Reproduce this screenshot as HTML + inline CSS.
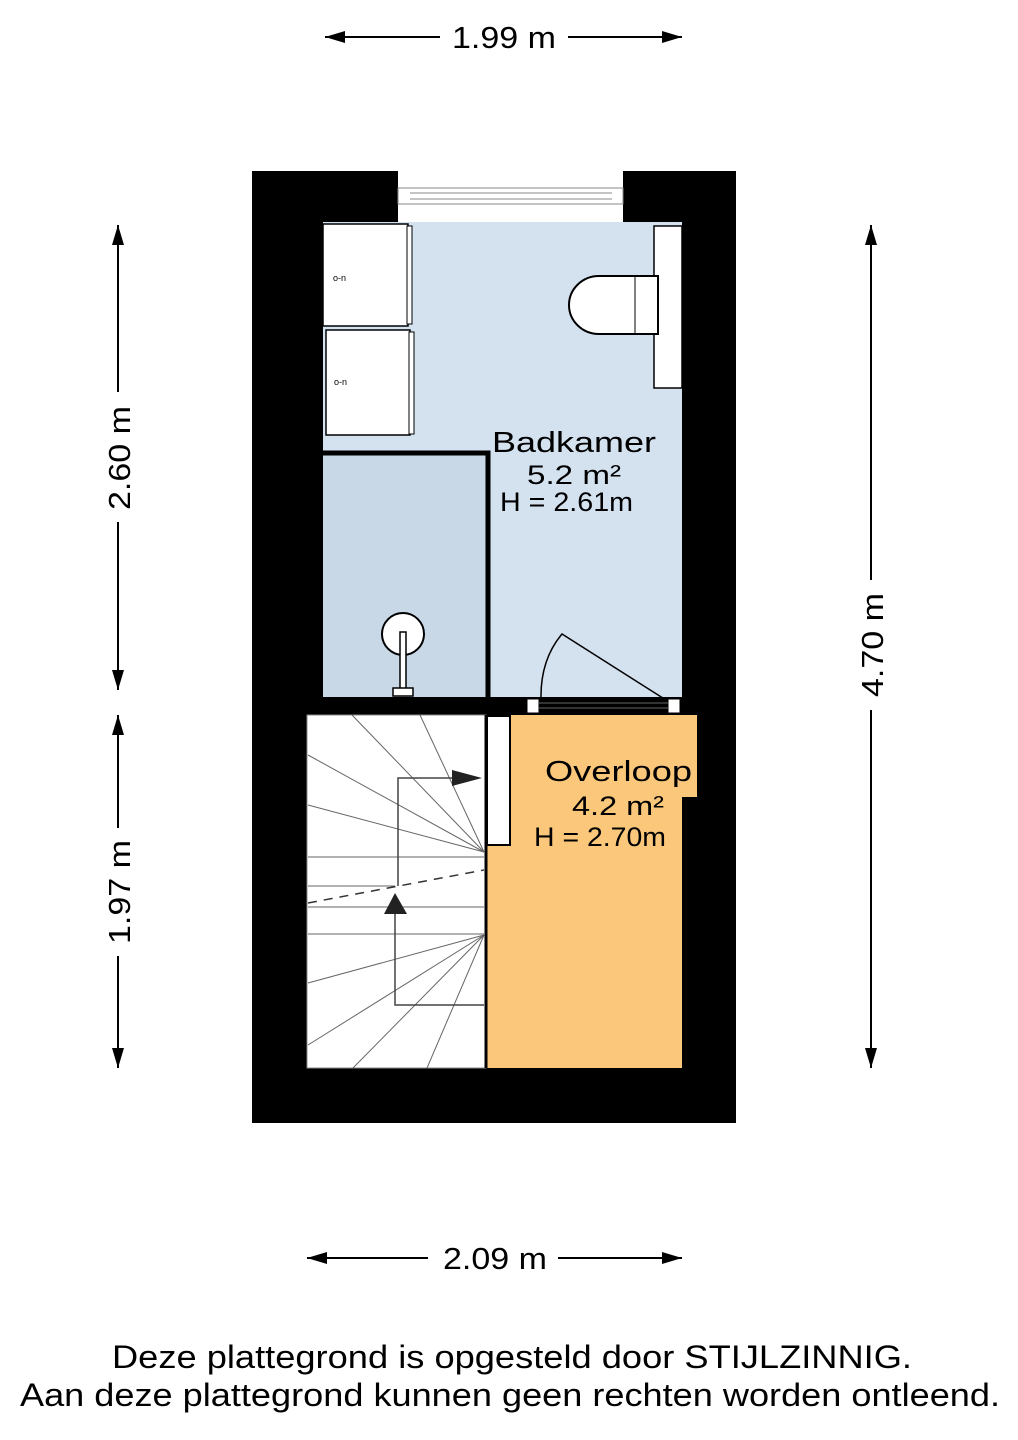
<!DOCTYPE html>
<html><head><meta charset="utf-8"><style>html,body{margin:0;padding:0;background:#fff}svg{display:block}</style></head>
<body>
<svg width="1018" height="1440" viewBox="0 0 1018 1440" xmlns="http://www.w3.org/2000/svg" font-family="Liberation Sans, sans-serif">
<!-- outer walls -->
<rect x="252" y="171" width="484" height="952" fill="#000"/>
<rect x="398" y="171" width="225" height="52" fill="#fff"/>
<!-- window -->
<rect x="398" y="188" width="225" height="16" fill="#fff" stroke="#888" stroke-width="1"/>
<line x1="410" y1="193" x2="612" y2="193" stroke="#888"/><line x1="410" y1="199" x2="612" y2="199" stroke="#888"/>
<!-- bathroom -->
<rect x="323" y="222" width="359" height="475" fill="#d4e1ef"/>
<!-- cabinets -->
<rect x="323" y="224" width="85" height="102" fill="#fff" stroke="#000" stroke-width="1.5"/>
<rect x="407" y="226" width="5" height="98" fill="#fff" stroke="#000" stroke-width="1"/>
<rect x="326" y="330" width="84" height="105" fill="#fff" stroke="#000" stroke-width="1.5"/>
<rect x="409" y="332" width="5" height="102" fill="#fff" stroke="#000" stroke-width="1"/>
<text x="333" y="281" font-size="9">o-n</text><text x="334" y="385" font-size="9">o-n</text>
<!-- toilet -->
<rect x="654" y="226" width="28" height="162" fill="#fff" stroke="#000" stroke-width="1.5"/>
<path d="M658,276 L599,276 A30,29 0 0 0 599,334 L658,334 Z" fill="#fff" stroke="#000" stroke-width="2"/>
<line x1="635" y1="277" x2="635" y2="333" stroke="#000" stroke-width="1"/>
<!-- shower -->
<rect x="323" y="453" width="163" height="244" fill="#c9d8e7"/>
<path d="M323,453 L488,453 L488,697" fill="none" stroke="#000" stroke-width="5"/>
<circle cx="403" cy="634" r="21" fill="#fff" stroke="#000" stroke-width="2"/>
<rect x="400" y="632" width="6" height="60" fill="#fff" stroke="#000" stroke-width="1.5"/>
<rect x="393" y="688" width="20" height="8" fill="#fff" stroke="#000" stroke-width="1.5"/>
<!-- partition wall -->
<rect x="252" y="697" width="275" height="18" fill="#000"/>
<!-- door -->
<rect x="527" y="699" width="12" height="14" fill="#fff" stroke="#000"/>
<rect x="668" y="699" width="12" height="14" fill="#fff" stroke="#000"/>
<line x1="539" y1="703" x2="668" y2="703" stroke="#666"/><line x1="539" y1="708" x2="668" y2="708" stroke="#666"/>
<path d="M541,700 Q540,660 562,634 L666,700" fill="none" stroke="#000" stroke-width="1.5"/>
<!-- stairs -->
<rect x="307" y="715" width="179" height="353" fill="#fff" stroke="#888" stroke-width="1"/>
<g stroke="#666" stroke-width="1" fill="none">
<line x1="484" y1="852" x2="352" y2="715"/><line x1="484" y1="852" x2="420" y2="715"/>
<line x1="484" y1="852" x2="308" y2="755"/><line x1="484" y1="852" x2="308" y2="805"/>
<line x1="308" y1="857" x2="484" y2="857"/><line x1="308" y1="886" x2="395" y2="886"/>
<line x1="308" y1="907" x2="484" y2="907"/><line x1="308" y1="934" x2="484" y2="934"/>
<line x1="484" y1="935" x2="308" y2="983"/><line x1="484" y1="935" x2="308" y2="1045"/>
<line x1="484" y1="935" x2="353" y2="1068"/><line x1="484" y1="935" x2="427" y2="1068"/>
</g>
<path d="M308,903 L484,870" stroke="#333" stroke-width="1.5" stroke-dasharray="9,7" fill="none"/>
<path d="M484,1005 L395,1005 L395,912 M398,886 L398,778 L460,778" stroke="#444" stroke-width="1.5" fill="none"/>
<path d="M452,770 L482,778 L452,786 Z" fill="#222"/>
<path d="M395,893 L384,914 L407,914 Z" fill="#222"/>
<!-- landing -->
<path d="M486,715 L697,715 L697,797 L682,797 L682,1068 L486,1068 Z" fill="#fbc77a"/>
<line x1="486" y1="715" x2="486" y2="1068" stroke="#000" stroke-width="3"/>
<rect x="487" y="716" width="23" height="129" fill="#fff" stroke="#000" stroke-width="2"/>
<!-- labels -->
<g fill="#000">
<text x="492" y="452" font-size="29" textLength="164" lengthAdjust="spacingAndGlyphs">Badkamer</text>
<text x="527" y="484" font-size="27" textLength="94" lengthAdjust="spacingAndGlyphs">5.2 m²</text>
<text x="500" y="511" font-size="27" textLength="133" lengthAdjust="spacingAndGlyphs">H = 2.61m</text>
<text x="545" y="781" font-size="29" textLength="147" lengthAdjust="spacingAndGlyphs">Overloop</text>
<text x="572" y="815" font-size="27" textLength="92" lengthAdjust="spacingAndGlyphs">4.2 m²</text>
<text x="534" y="846" font-size="27" textLength="132" lengthAdjust="spacingAndGlyphs">H = 2.70m</text>
</g>
<!-- dimensions -->
<g stroke="#000" stroke-width="2">
<line x1="325" y1="37" x2="440" y2="37"/>
<line x1="568" y1="37" x2="682" y2="37"/>
<line x1="307" y1="1258" x2="428" y2="1258"/>
<line x1="558" y1="1258" x2="682" y2="1258"/>
<line x1="118" y1="225" x2="118" y2="392"/><line x1="118" y1="522" x2="118" y2="690"/>
<line x1="118" y1="715" x2="118" y2="828"/><line x1="118" y1="956" x2="118" y2="1068"/>
<line x1="871" y1="225" x2="871" y2="580"/><line x1="871" y1="710" x2="871" y2="1068"/>
</g>
<g fill="#000">
<path d="M325,37 L345,31 L345,43 Z"/><path d="M682,37 L662,31 L662,43 Z"/>
<path d="M307,1258 L327,1252 L327,1264 Z"/><path d="M682,1258 L662,1252 L662,1264 Z"/>
<path d="M118,225 L112,245 L124,245 Z"/><path d="M118,690 L112,670 L124,670 Z"/>
<path d="M118,715 L112,735 L124,735 Z"/><path d="M118,1068 L112,1048 L124,1048 Z"/>
<path d="M871,225 L865,245 L877,245 Z"/><path d="M871,1068 L865,1048 L877,1048 Z"/>
</g>
<g fill="#000" font-size="31" text-anchor="middle">
<text x="504" y="48" textLength="104" lengthAdjust="spacingAndGlyphs">1.99 m</text>
<text x="495" y="1269" textLength="104" lengthAdjust="spacingAndGlyphs">2.09 m</text>
<text transform="translate(130,458) rotate(-90)" textLength="104" lengthAdjust="spacingAndGlyphs">2.60 m</text>
<text transform="translate(130,892) rotate(-90)" textLength="104" lengthAdjust="spacingAndGlyphs">1.97 m</text>
<text transform="translate(883,645) rotate(-90)" textLength="104" lengthAdjust="spacingAndGlyphs">4.70 m</text>
</g>
<text x="112" y="1368" font-size="32" textLength="800" lengthAdjust="spacingAndGlyphs">Deze plattegrond is opgesteld door STIJLZINNIG.</text>
<text x="20" y="1406" font-size="32" textLength="980" lengthAdjust="spacingAndGlyphs">Aan deze plattegrond kunnen geen rechten worden ontleend.</text>
</svg>
</body></html>
